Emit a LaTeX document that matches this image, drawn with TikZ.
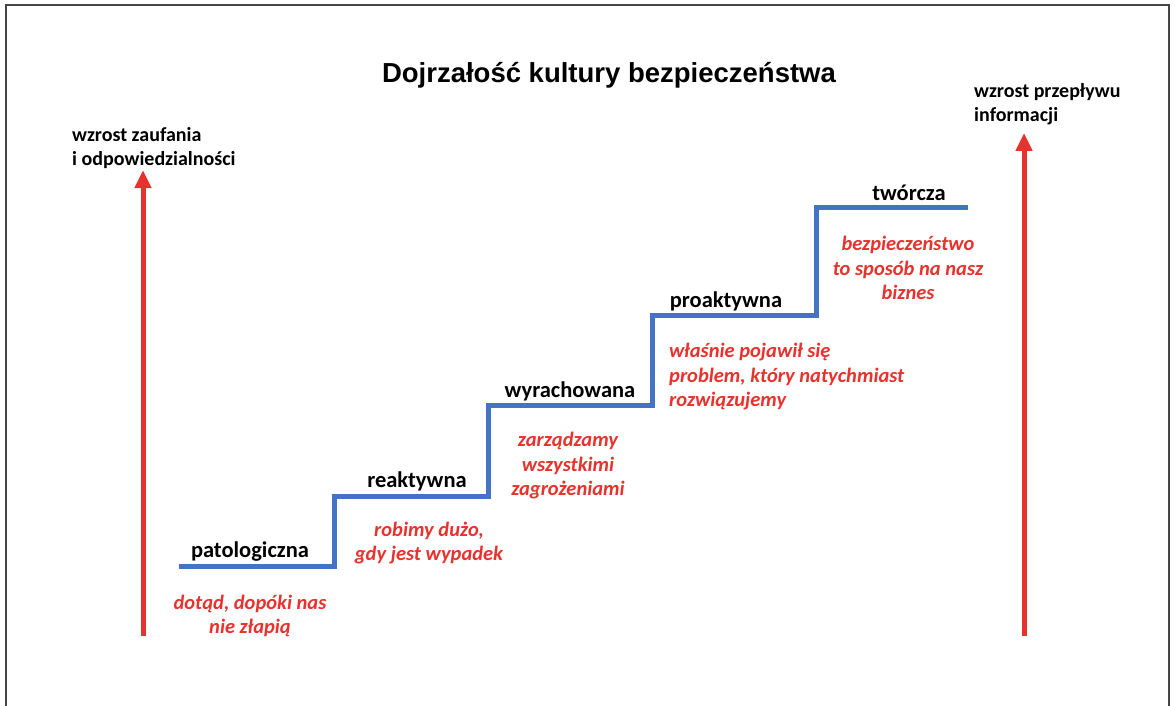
\documentclass[tikz,border=0pt]{standalone}
\usepackage{fontspec}
\setmainfont{Carlito}
\newfontfamily\titlefont{Liberation Sans}
\usetikzlibrary{arrows.meta}
\definecolor{stairblue}{RGB}{68,114,196}
\definecolor{arrowred}{RGB}{232,50,45}
\definecolor{framegray}{RGB}{70,70,70}
\begin{document}
\begin{tikzpicture}[x=1pt,y=-1pt,
  level/.style={font=\fontsize{22.5}{26}\selectfont\bfseries, text=black, inner sep=0pt},
  motto/.style={font=\fontsize{20.5}{24.5}\selectfont\bfseries\itshape, text=arrowred, inner sep=0pt, align=center},
  axislabel/.style={font=\fontsize{20}{23.5}\selectfont\bfseries, text=black, inner sep=0pt, align=left, anchor=west},
  growth/.style={draw=arrowred, line width=5pt, -{Triangle[width=16pt,length=18pt]}},
  stair/.style={draw=stairblue, line width=5pt, line join=miter}]
\useasboundingbox (0,0) rectangle (1175,706);
\fill[white] (0,0) rectangle (1175,706);
% open frame
\draw[framegray, line width=1.3pt] (6,706) -- (6,5) -- (1169,5) -- (1169,706);

% title
\node[font=\titlefont\fontsize{27.5}{32}\selectfont\bfseries, inner sep=0pt] (title) at (609,75) {Dojrzałość kultury bezpieczeństwa};

% axis arrows
\coordinate (la0) at (143,636);
\coordinate (la1) at (143,170);
\coordinate (ra0) at (1024,636);
\coordinate (ra1) at (1024,133);
\draw[growth] (la0) -- (la1);
\draw[growth] (ra0) -- (ra1);
\node[axislabel] (trust) at (72,148) {wzrost zaufania\\i odpowiedzialności};
\node[axislabel] (info) at (974,104) {wzrost przepływu\\informacji};

% staircase
\coordinate (s0) at (179,566);
\coordinate (s1) at (334,566);
\coordinate (s2) at (334,496);
\coordinate (s3) at (488,496);
\coordinate (s4) at (488,405);
\coordinate (s5) at (652,405);
\coordinate (s6) at (652,315);
\coordinate (s7) at (816,315);
\coordinate (s8) at (816,207);
\coordinate (s9) at (968,207);
\draw[stair] (s0) -- (s1) -- (s2) -- (s3) -- (s4) -- (s5) -- (s6) -- (s7) -- (s8) -- (s9);

% levels
\node[level] (l1) at (250,552) {patologiczna};
\node[level] (l2) at (417,481) {reaktywna};
\node[level] (l3) at (570,391) {wyrachowana};
\node[level] (l4) at (726,301) {proaktywna};
\node[level] (l5) at (909,193) {twórcza};

% descriptions
\node[motto] (m1) at (250,616) {dotąd, dopóki nas\\nie złapią};
\node[motto] (m2) at (429,543) {robimy dużo,\\gdy jest wypadek};
\node[motto] (m3) at (568,466) {zarządzamy\\wszystkimi\\zagrożeniami};
\node[motto, align=left, anchor=west] (m4) at (669,377) {właśnie pojawił się\\problem, który natychmiast\\rozwiązujemy};
\node[motto] (m5) at (908,268) {bezpieczeństwo\\to sposób na nasz\\biznes};
\end{tikzpicture}
\end{document}
